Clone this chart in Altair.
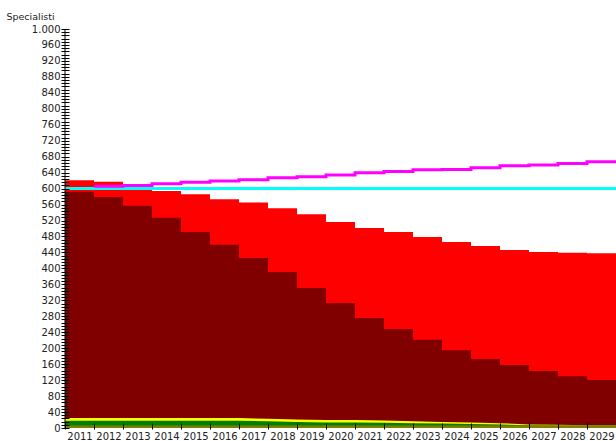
import altair as alt
import pandas as pd

# Years on the horizontal axis
years = list(range(2011, 2030))

# Specialists still in service (dark red) and total available (red)
in_service = [592, 579, 557, 527, 491, 459, 426, 391, 351, 313, 276, 248, 221, 195, 173, 158, 143, 130, 120]
total = [621, 617, 597, 594, 586, 573, 565, 551, 536, 516, 501, 491, 479, 466, 456, 446, 441, 439, 438]

# Demand curve (magenta), from 2012 on
demand_years = years[1:]
demand = [606, 608, 612, 616, 619, 622, 627, 630, 634, 640, 643, 647, 648, 652, 657, 659, 663, 667]

# Reference level (cyan)
threshold = [600]

# Small components at the bottom (cumulative tops)
yellow_top = [25, 25, 25, 25, 25, 25, 25, 23, 21, 20, 20, 19, 17, 15, 14, 12, 9, 8, 7]
green_top = [18, 18, 18, 18, 18, 18, 18, 17, 15, 14, 14, 13, 12, 11, 10, 9, 7, 6, 6]
olive_top = [6, 6, 6, 6, 6, 6, 6, 6, 6, 6, 6, 6, 6, 6, 6, 6, 6, 6, 6]

END_YEAR = 2030


def step_frame(xs, vals):
    # close the last step at the end of the final year
    return pd.DataFrame({"year": list(xs) + [END_YEAR], "value": list(vals) + [vals[-1]]})


W, H = 551, 399
TEXT = "#222222"

x_enc = alt.X(
    "year:Q",
    scale=alt.Scale(domain=[2011, END_YEAR], nice=False, zero=False),
    axis=alt.Axis(
        values=list(range(2011, END_YEAR + 1)),
        labelExpr="datum.value < 2030 ? '' + datum.value : ''",
        labelOffset=14.5,
        labelFlush=False,
        labelOverlap=False,
        labelFontSize=10,
        labelFont="DejaVu Sans",
        labelColor=TEXT,
        labelPadding=2,
        tickSize=6,
        tickColor="#000000",
        offset=-5,
        domain=False,
        grid=False,
        title=None,
        zindex=1,
    ),
)

y_enc = alt.Y(
    "value:Q",
    scale=alt.Scale(domain=[0, 1000], nice=False),
    axis=alt.Axis(
        values=list(range(0, 1001, 8)),
        labelExpr="datum.value % 40 == 0 ? replace(format(datum.value, ','), ',', '.') : ''",
        labelOverlap=False,
        labelFontSize=10,
        labelFont="DejaVu Sans",
        labelColor=TEXT,
        labelPadding=1,
        tickSize=8,
        tickColor="#000000",
        offset=-4,
        domain=False,
        grid=False,
        title="Specialisti",
        titleAngle=0,
        titleX=-39,
        titleY=-13,
        titleAlign="center",
        titleBaseline="middle",
        titleFont="DejaVu Sans",
        titleFontSize=9.5,
        titleFontWeight="normal",
        titleColor=TEXT,
        zindex=1,
    ),
)

red = alt.Chart(step_frame(years, total)).mark_area(
    interpolate="step-after", color="#ff0000"
).encode(x=x_enc, y=y_enc)

dark = alt.Chart(step_frame(years, in_service)).mark_area(
    interpolate="step-after", color="#800000"
).encode(x=x_enc, y=y_enc)

yellow = alt.Chart(step_frame(years, yellow_top)).mark_area(color="#ffff00").encode(x=x_enc, y=y_enc)
green = alt.Chart(step_frame(years, green_top)).mark_area(color="#008000").encode(x=x_enc, y=y_enc)
olive = alt.Chart(step_frame(years, olive_top)).mark_area(color="#808000").encode(x=x_enc, y=y_enc)

cyan = alt.Chart(pd.DataFrame({"value": threshold})).mark_rule(
    color="#00ffff", strokeWidth=3
).encode(y=y_enc)

magenta = alt.Chart(step_frame(demand_years, demand)).mark_line(
    interpolate="step-after", color="#ff00ff", strokeWidth=3
).encode(x=x_enc, y=y_enc)

axis_line = alt.Chart(pd.DataFrame({"value": [0]})).mark_rule(
    color="#000000", strokeWidth=1
).encode(x=alt.value(0), y=alt.value(0), y2=alt.value(H))

chart = (
    alt.layer(red, dark, yellow, green, olive, cyan, magenta, axis_line)
    .properties(
        width=W,
        height=H,
        background="white",
        autosize=alt.AutoSizeParams(type="none"),
        padding={"left": 65, "top": 29, "right": 0, "bottom": 13},
    )
    .configure_view(strokeWidth=0, stroke="transparent")
)

chart.save("out.html", embed_options={"renderer": "svg", "actions": False})
